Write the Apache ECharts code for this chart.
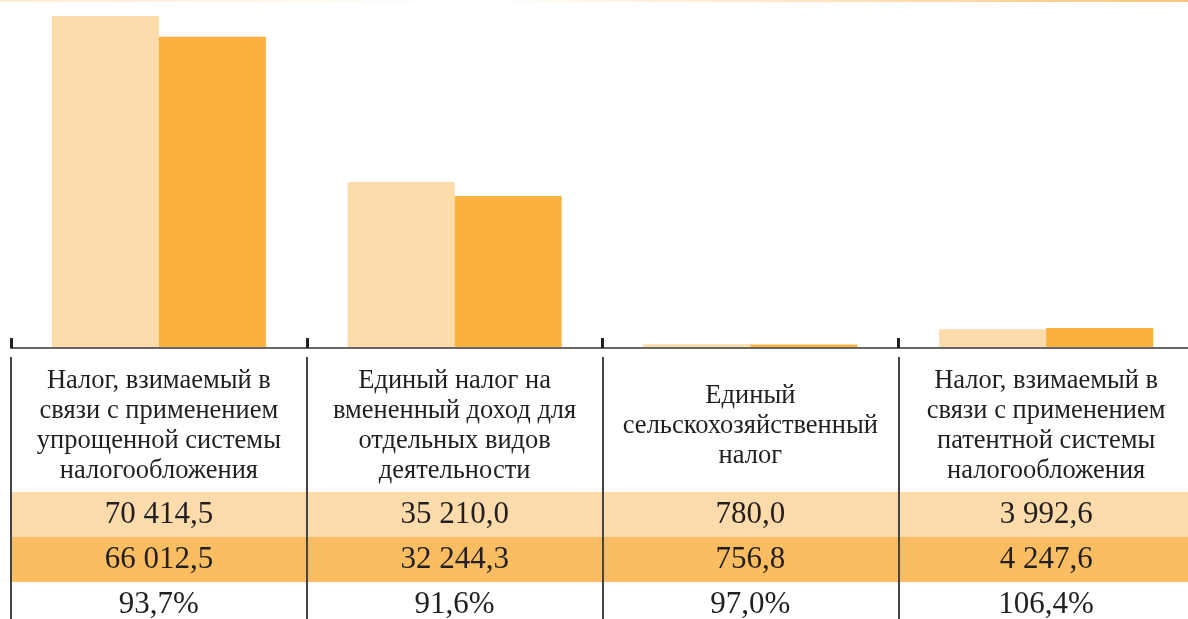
<!DOCTYPE html>
<html>
<head>
<meta charset="utf-8">
<script src="https://cdn.jsdelivr.net/npm/echarts@6/dist/echarts.min.js"></script>
<style>
  html, body { margin: 0; padding: 0; background: #fff; }
  #main { width: 1188px; height: 619px; }
</style>
</head>
<body>
<div id="main"></div>
<script>
const categories = [
  'Налог, взимаемый в\nсвязи с применением\nупрощенной системы\nналогообложения',
  'Единый налог на\nвмененный доход для\nотдельных видов\nдеятельности',
  'Единый\nсельскохозяйственный\nналог',
  'Налог, взимаемый в\nсвязи с применением\nпатентной системы\nналогообложения'
];
const planValues = [70414.5, 35210.0, 780.0, 3992.6];
const factValues = [66012.5, 32244.3, 756.8, 4247.6];
const pctValues = ['93,7%', '91,6%', '97,0%', '106,4%'];

const lightColor = '#FDDBAA';
const darkColor = '#FBB040';
const darkBand = '#FBBD62';
const textColor = '#231F20';
const font = 'Liberation Serif';

function fmt(v) {
  let parts = v.toFixed(1).split('.');
  let intPart = parts[0].replace(/\B(?=(\d{3})+(?!\d))/g, ' ');
  return intPart + ',' + parts[1];
}

const chart = echarts.init(document.getElementById('main'));

function rowAxis(data, margin, bg) {
  return {
    type: 'category',
    gridIndex: 1,
    position: 'top',
    data: data,
    axisLine: {show: false},
    axisTick: {show: false},
    splitLine: {show: false},
    z: 1,
    axisLabel: {
      inside: true,
      interval: 0,
      margin: margin,
      verticalAlign: 'middle',
      align: 'center',
      fontFamily: font,
      fontSize: 31,
      color: textColor,
      backgroundColor: bg || 'transparent',
      width: 297,
      height: 45
    }
  };
}

let option = {
  animation: false,
  graphic: [{
    type: 'rect',
    shape: {x: 0, y: 0, width: 1188, height: 2},
    style: {
      fill: new echarts.graphic.LinearGradient(0, 0, 1, 0, [
        {offset: 0, color: '#FDEBD3'},
        {offset: 0.4, color: '#FFFFFF'},
        {offset: 1, color: '#FDC57C'}
      ])
    }
  }],
  grid: [
    {left: 11, top: 16, width: 1183, height: 332, outerBoundsMode: 'none', containLabel: false},
    {left: 11, top: 357, width: 1183, height: 262, outerBoundsMode: 'none', containLabel: false}
  ],
  xAxis: [
    {
      type: 'category',
      gridIndex: 0,
      data: categories,
      z: 5,
      axisLine: {lineStyle: {color: '#666', width: 2}},
      axisTick: {show: true, inside: true, alignWithLabel: false, interval: 0, length: 10, lineStyle: {color: '#222', width: 3}},
      axisLabel: {show: false}
    },
    {
      type: 'category',
      gridIndex: 1,
      position: 'top',
      data: categories,
      z: 5,
      axisLine: {show: false},
      axisTick: {show: false},
      axisLabel: {
        inside: true,
        interval: 0,
        margin: 69,
        verticalAlign: 'middle',
        align: 'center',
        fontFamily: font,
        fontSize: 26.5,
        lineHeight: 30,
        color: textColor
      },
      splitLine: {show: true, interval: 0, lineStyle: {color: '#444', width: 2}}
    },
    rowAxis(planValues.map(fmt), 157.5, lightColor),
    rowAxis(factValues.map(fmt), 202.5, darkBand),
    rowAxis(pctValues, 248)
  ],
  yAxis: [
    {type: 'value', gridIndex: 0, min: 0, max: 'dataMax', show: false, splitLine: {show: false}},
    {type: 'value', gridIndex: 1, show: false, splitLine: {show: false}}
  ],
  series: [
    {
      type: 'bar',
      name: 'plan',
      xAxisIndex: 0,
      yAxisIndex: 0,
      data: planValues,
      barWidth: 107,
      barGap: '0%',
      itemStyle: {color: lightColor}
    },
    {
      type: 'bar',
      name: 'fact',
      xAxisIndex: 0,
      yAxisIndex: 0,
      data: factValues,
      barWidth: 107,
      barGap: '0%',
      itemStyle: {color: darkColor}
    }
  ]
};
chart.setOption(option);
</script>
</body>
</html>
